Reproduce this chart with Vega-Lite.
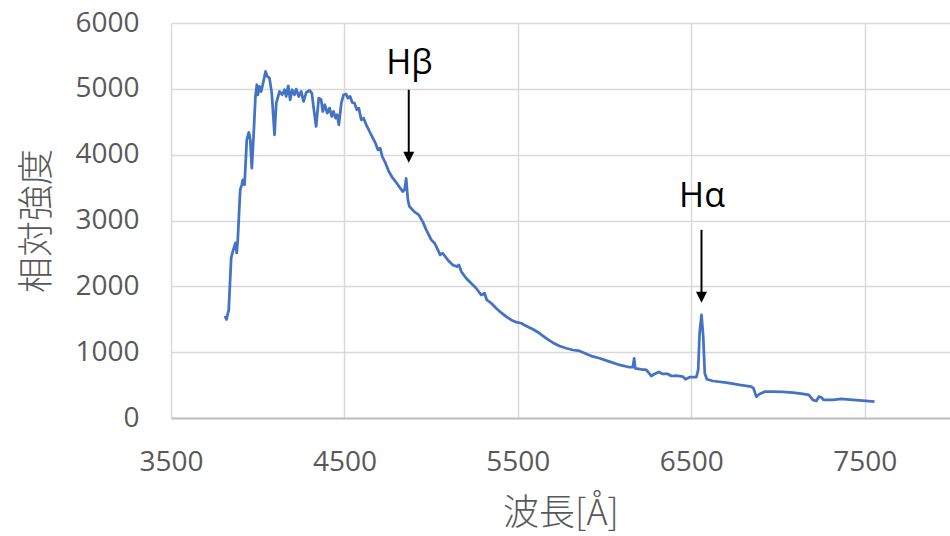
{
  "$schema": "https://vega.github.io/schema/vega-lite/v6.json",
  "width": 779,
  "height": 395,
  "autosize": {"type": "none"},
  "padding": {"left": 171, "top": 23, "right": 0, "bottom": 118},
  "background": "white",
  "config": {
    "view": {"stroke": null},
    "axis": {
      "gridColor": "#d9d9d9",
      "gridWidth": 1.5,
      "ticks": false,
      "labelFont": "Open Sans",
      "labelFontSize": 28,
      "labelColor": "#595959",
      "titleFont": "Noto Sans CJK JP",
      "titleFontWeight": 300,
      "titleColor": "#595959",
      "titleFontSize": 36
    }
  },
  "datasets": {
    "spectrum": [
      {"wl": 3811, "val": 1550}, {"wl": 3820, "val": 1497}, {"wl": 3833, "val": 1642}, {"wl": 3847, "val": 2432},
      {"wl": 3856, "val": 2528}, {"wl": 3872, "val": 2660}, {"wl": 3879, "val": 2508}, {"wl": 3885, "val": 2706},
      {"wl": 3899, "val": 3466}, {"wl": 3908, "val": 3542}, {"wl": 3914, "val": 3618}, {"wl": 3924, "val": 3542},
      {"wl": 3937, "val": 4226}, {"wl": 3949, "val": 4337}, {"wl": 3957, "val": 4226}, {"wl": 3966, "val": 3795},
      {"wl": 3976, "val": 4276}, {"wl": 3987, "val": 4884}, {"wl": 3995, "val": 5062}, {"wl": 4001, "val": 4910},
      {"wl": 4010, "val": 5036}, {"wl": 4020, "val": 4960}, {"wl": 4033, "val": 5112}, {"wl": 4045, "val": 5264},
      {"wl": 4055, "val": 5188}, {"wl": 4068, "val": 5163}, {"wl": 4081, "val": 4935}, {"wl": 4097, "val": 4302},
      {"wl": 4107, "val": 4783}, {"wl": 4126, "val": 4960}, {"wl": 4141, "val": 4910}, {"wl": 4155, "val": 4986},
      {"wl": 4164, "val": 4884}, {"wl": 4176, "val": 5046}, {"wl": 4187, "val": 4834}, {"wl": 4199, "val": 4986},
      {"wl": 4212, "val": 4910}, {"wl": 4222, "val": 4996}, {"wl": 4237, "val": 4884}, {"wl": 4251, "val": 4960},
      {"wl": 4264, "val": 4808}, {"wl": 4280, "val": 4945}, {"wl": 4299, "val": 4975}, {"wl": 4312, "val": 4935},
      {"wl": 4324, "val": 4682}, {"wl": 4337, "val": 4428}, {"wl": 4352, "val": 4859}, {"wl": 4366, "val": 4834},
      {"wl": 4375, "val": 4656}, {"wl": 4387, "val": 4758}, {"wl": 4401, "val": 4631}, {"wl": 4414, "val": 4707},
      {"wl": 4427, "val": 4580}, {"wl": 4437, "val": 4656}, {"wl": 4449, "val": 4555}, {"wl": 4458, "val": 4606},
      {"wl": 4468, "val": 4454}, {"wl": 4482, "val": 4783}, {"wl": 4495, "val": 4910}, {"wl": 4510, "val": 4920},
      {"wl": 4520, "val": 4859}, {"wl": 4533, "val": 4884}, {"wl": 4545, "val": 4792}, {"wl": 4558, "val": 4783},
      {"wl": 4572, "val": 4682}, {"wl": 4583, "val": 4707}, {"wl": 4597, "val": 4529}, {"wl": 4610, "val": 4555},
      {"wl": 4626, "val": 4454}, {"wl": 4645, "val": 4352}, {"wl": 4664, "val": 4251}, {"wl": 4679, "val": 4175},
      {"wl": 4693, "val": 4073}, {"wl": 4706, "val": 4099}, {"wl": 4718, "val": 3972}, {"wl": 4737, "val": 3871},
      {"wl": 4756, "val": 3744}, {"wl": 4779, "val": 3643}, {"wl": 4802, "val": 3567}, {"wl": 4822, "val": 3491},
      {"wl": 4837, "val": 3440}, {"wl": 4847, "val": 3466}, {"wl": 4856, "val": 3640}, {"wl": 4866, "val": 3314},
      {"wl": 4875, "val": 3212}, {"wl": 4904, "val": 3131}, {"wl": 4929, "val": 3086}, {"wl": 4952, "val": 2979},
      {"wl": 4972, "val": 2858}, {"wl": 5001, "val": 2706}, {"wl": 5020, "val": 2655}, {"wl": 5039, "val": 2553},
      {"wl": 5052, "val": 2477}, {"wl": 5067, "val": 2503}, {"wl": 5096, "val": 2401}, {"wl": 5125, "val": 2325},
      {"wl": 5148, "val": 2300}, {"wl": 5160, "val": 2325}, {"wl": 5174, "val": 2224}, {"wl": 5202, "val": 2123},
      {"wl": 5231, "val": 2047}, {"wl": 5260, "val": 1971}, {"wl": 5289, "val": 1869}, {"wl": 5308, "val": 1895},
      {"wl": 5321, "val": 1793}, {"wl": 5347, "val": 1743}, {"wl": 5375, "val": 1667}, {"wl": 5404, "val": 1600},
      {"wl": 5433, "val": 1540}, {"wl": 5462, "val": 1489}, {"wl": 5491, "val": 1455}, {"wl": 5520, "val": 1439},
      {"wl": 5548, "val": 1398}, {"wl": 5587, "val": 1348}, {"wl": 5625, "val": 1287}, {"wl": 5664, "val": 1211},
      {"wl": 5702, "val": 1144}, {"wl": 5740, "val": 1094}, {"wl": 5779, "val": 1059}, {"wl": 5817, "val": 1033},
      {"wl": 5856, "val": 1018}, {"wl": 5896, "val": 973}, {"wl": 5931, "val": 935}, {"wl": 5971, "val": 907},
      {"wl": 6029, "val": 856}, {"wl": 6087, "val": 806}, {"wl": 6144, "val": 771}, {"wl": 6163, "val": 771},
      {"wl": 6171, "val": 907}, {"wl": 6177, "val": 755}, {"wl": 6212, "val": 740}, {"wl": 6241, "val": 730},
      {"wl": 6260, "val": 669}, {"wl": 6269, "val": 638}, {"wl": 6288, "val": 669}, {"wl": 6313, "val": 699},
      {"wl": 6336, "val": 669}, {"wl": 6365, "val": 669}, {"wl": 6385, "val": 638}, {"wl": 6413, "val": 643},
      {"wl": 6452, "val": 628}, {"wl": 6467, "val": 588}, {"wl": 6490, "val": 619}, {"wl": 6529, "val": 619},
      {"wl": 6540, "val": 730}, {"wl": 6548, "val": 1287}, {"wl": 6559, "val": 1565}, {"wl": 6569, "val": 1236},
      {"wl": 6578, "val": 679}, {"wl": 6590, "val": 588}, {"wl": 6625, "val": 562}, {"wl": 6702, "val": 537},
      {"wl": 6779, "val": 502}, {"wl": 6846, "val": 476}, {"wl": 6859, "val": 451}, {"wl": 6875, "val": 324},
      {"wl": 6894, "val": 365}, {"wl": 6923, "val": 400}, {"wl": 6971, "val": 400}, {"wl": 7028, "val": 395},
      {"wl": 7086, "val": 385}, {"wl": 7144, "val": 365}, {"wl": 7178, "val": 350}, {"wl": 7201, "val": 274},
      {"wl": 7221, "val": 258}, {"wl": 7236, "val": 324}, {"wl": 7250, "val": 315}, {"wl": 7263, "val": 274},
      {"wl": 7317, "val": 274}, {"wl": 7365, "val": 289}, {"wl": 7432, "val": 274}, {"wl": 7490, "val": 263},
      {"wl": 7557, "val": 248}
    ],
    "arrows": [
      {"wl": 4871, "val": 4986, "val2": 3960},
      {"wl": 6559, "val": 2858, "val2": 1836}
    ],
    "heads": [
      {"wl": 4871, "val": 3960},
      {"wl": 6559, "val": 1836}
    ],
    "labels": [
      {"wl": 4875, "val": 5229, "label": "Hβ"},
      {"wl": 6562, "val": 3207, "label": "Hα"}
    ]
  },
  "encoding": {
    "x": {
      "field": "wl",
      "type": "quantitative",
      "scale": {"domain": [3500, 7992], "nice": false, "zero": false},
      "axis": {
        "title": "波長[Å]",
        "values": [3500, 4500, 5500, 6500, 7500],
        "format": "d",
        "labelPadding": 30,
        "titlePadding": 20,
        "domainColor": "#bfbfbf",
        "domainWidth": 2,
        "labelFlush": false
      }
    },
    "y": {
      "field": "val",
      "type": "quantitative",
      "scale": {"domain": [0, 6000], "nice": false},
      "axis": {
        "title": "相対強度",
        "values": [0, 1000, 2000, 3000, 4000, 5000, 6000],
        "format": "d",
        "domain": false,
        "labelPadding": 32,
        "titlePadding": 18
      }
    }
  },
  "layer": [
    {
      "data": {"name": "spectrum"},
      "mark": {"type": "line", "color": "#4472C4", "strokeWidth": 2.75, "strokeJoin": "round"}
    },
    {
      "data": {"name": "arrows"},
      "mark": {"type": "rule", "color": "black", "strokeWidth": 2},
      "encoding": {"y2": {"field": "val2"}}
    },
    {
      "data": {"name": "heads"},
      "mark": {"type": "point", "shape": "M-1,-1L1,-1L0,1Z", "filled": true, "color": "black", "opacity": 1, "size": 121}
    },
    {
      "data": {"name": "labels"},
      "mark": {"type": "text", "font": "Open Sans", "fontSize": 34, "color": "black", "align": "center", "baseline": "alphabetic"},
      "encoding": {"text": {"field": "label"}}
    }
  ]
}
